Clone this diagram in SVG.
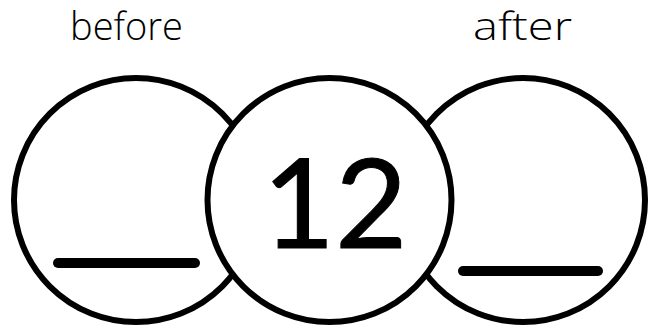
<svg xmlns="http://www.w3.org/2000/svg" width="655" height="327" viewBox="0 0 655 327">
<style>
.c{fill:#fff;stroke:#000;stroke-width:6}
.b{stroke:#000;stroke-width:10;stroke-linecap:round}
.lbl{font-family:"Open Sans","DejaVu Sans",sans-serif;font-size:38px;fill:#000;font-weight:300}
.num{font-family:Lato,"DejaVu Sans",sans-serif;font-size:125px;fill:#000;stroke:#000;stroke-width:1;text-anchor:middle}
</style>
<rect width="655" height="327" fill="#fff"/>
<text class="lbl" x="70" y="40" textLength="113" lengthAdjust="spacingAndGlyphs">before</text>
<text class="lbl" x="473" y="40" textLength="99" lengthAdjust="spacingAndGlyphs">after</text>
<g id="before">
<circle class="c" cx="136" cy="200" r="122"/>
<line class="b" x1="58" y1="263" x2="195" y2="263"/>
</g>
<g id="after">
<circle class="c" cx="523" cy="200" r="122"/>
<line class="b" x1="463" y1="271" x2="598" y2="271"/>
</g>
<g id="current">
<circle class="c" cx="329.5" cy="200" r="122"/>
<text class="num" x="335" y="248">12</text>
</g>
<g id="connectors"/>
</svg>
